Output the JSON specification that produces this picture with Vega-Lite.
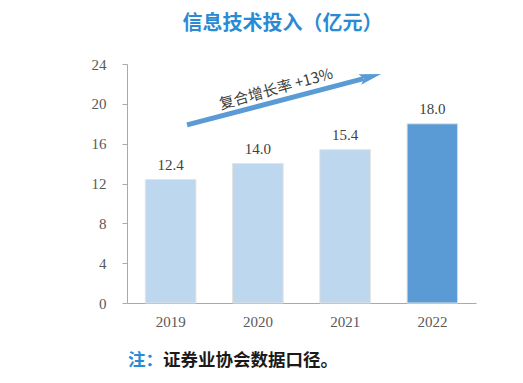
{
  "$schema": "https://vega.github.io/schema/vega-lite/v6.json",
  "width": 349,
  "height": 239,
  "autosize": {"type": "none"},
  "padding": {"left": 127, "top": 64, "right": 47, "bottom": 80},
  "background": "white",
  "title": {
    "text": "信息技术投入（亿元）",
    "font": "Noto Sans CJK SC",
    "fontSize": 20,
    "fontWeight": "bold",
    "color": "#2A8BD4",
    "anchor": "middle",
    "dx": -19,
    "offset": 23
  },
  "config": {"view": {"stroke": null}},
  "layer": [
    {
      "data": {
        "values": [
          {"year": "2019", "value": 12.4},
          {"year": "2020", "value": 14.0},
          {"year": "2021", "value": 15.4},
          {"year": "2022", "value": 18.0}
        ]
      },
      "encoding": {
        "x": {
          "field": "year",
          "type": "nominal",
          "scale": {"paddingInner": 0.42, "paddingOuter": 0.21},
          "axis": {
            "title": null,
            "labelAngle": 0,
            "labelFont": "Liberation Serif",
            "labelFontSize": 15,
            "labelColor": "#595959",
            "labelPadding": 11,
            "ticks": false,
            "domainColor": "#AAAAAA",
            "domainWidth": 1
          }
        },
        "y": {
          "field": "value",
          "type": "quantitative",
          "scale": {"domain": [0, 24], "nice": false, "zero": false},
          "axis": {
            "title": null,
            "values": [0, 4, 8, 12, 16, 20, 24],
            "tickCount": 7,
            "labelOverlap": false,
            "grid": false,
            "labelFont": "Liberation Serif",
            "labelFontSize": 15,
            "labelColor": "#595959",
            "labelPadding": 16,
            "tickSize": 5,
            "tickColor": "#AAAAAA",
            "domainColor": "#AAAAAA"
          }
        }
      },
      "layer": [
        {
          "mark": {"type": "bar", "stroke": "#E3E3E3", "strokeWidth": 1},
          "encoding": {
            "color": {
              "condition": {"test": "datum.year === '2022'", "value": "#5B9BD5"},
              "value": "#BDD7EE"
            }
          }
        },
        {
          "mark": {
            "type": "text",
            "font": "Liberation Serif",
            "fontSize": 15,
            "color": "#404040",
            "baseline": "alphabetic",
            "dy": -10
          },
          "encoding": {
            "text": {"field": "value", "type": "quantitative", "format": ".1f"}
          }
        }
      ]
    },
    {
      "data": {"values": [{}]},
      "layer": [
        {
          "mark": {"type": "rule", "color": "#5B9BD5", "strokeWidth": 5, "strokeCap": "butt"},
          "encoding": {
            "x": {"datum": 0.688, "type": "quantitative", "scale": {"domain": [0, 4], "nice": false, "zero": false}, "axis": null},
            "x2": {"datum": 2.712},
            "y": {"datum": 17.88, "type": "quantitative", "scale": {"domain": [0, 24], "nice": false, "zero": false}, "axis": null},
            "y2": {"datum": 22.53}
          }
        },
        {
          "mark": {
            "type": "point",
            "shape": "M1,0L-1,-0.5L-0.6,0L-1,0.5Z",
            "filled": true,
            "color": "#5B9BD5",
            "opacity": 1,
            "size": 484,
            "angle": 345.3
          },
          "encoding": {
            "x": {"datum": 2.790, "type": "quantitative"},
            "y": {"datum": 22.72, "type": "quantitative"}
          }
        },
        {
          "mark": {
            "type": "text",
            "font": "Noto Sans CJK SC",
            "fontSize": 15,
            "color": "#404040",
            "angle": 344.5,
            "align": "center",
            "baseline": "middle"
          },
          "encoding": {
            "x": {"datum": 1.708, "type": "quantitative"},
            "y": {"datum": 21.49, "type": "quantitative"},
            "text": {"value": "复合增长率  +13%"}
          }
        },
        {
          "mark": {
            "type": "text",
            "font": "Noto Sans CJK SC",
            "fontSize": 17.5,
            "fontWeight": "bold",
            "color": "#2A8BD4",
            "align": "left",
            "baseline": "alphabetic"
          },
          "encoding": {
            "x": {"datum": 0.011, "type": "quantitative"},
            "y": {"datum": -6.33, "type": "quantitative"},
            "text": {"value": "注："}
          }
        },
        {
          "mark": {
            "type": "text",
            "font": "Noto Sans CJK SC",
            "fontSize": 17.5,
            "fontWeight": "bold",
            "color": "#1A1A1A",
            "align": "left",
            "baseline": "alphabetic"
          },
          "encoding": {
            "x": {"datum": 0.413, "type": "quantitative"},
            "y": {"datum": -6.33, "type": "quantitative"},
            "text": {"value": "证券业协会数据口径。"}
          }
        }
      ]
    }
  ],
  "resolve": {"scale": {"x": "independent", "y": "independent"}}
}
